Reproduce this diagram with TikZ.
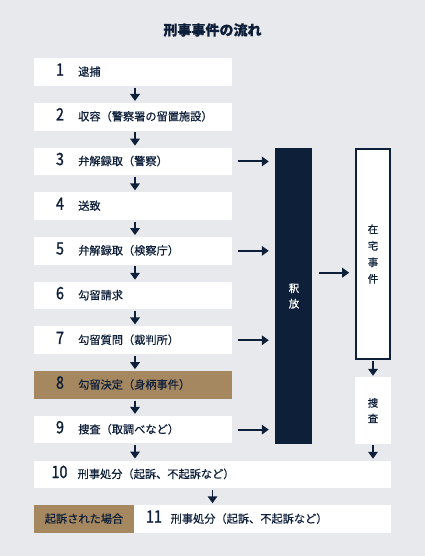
\documentclass[tikz,border=0pt]{standalone}
\usepackage{fontspec}
\setmainfont{Noto Sans CJK JP}[FakeBold=0.5]
\newfontfamily\lblfont{Noto Sans CJK JP}[FakeBold=0.5]
\newfontfamily\numfont{Noto Sans CJK JP}[FakeStretch=0.84,FakeBold=1.4]
\usetikzlibrary{arrows.meta,calc}
\definecolor{navy}{HTML}{0E1F3A}
\definecolor{gold}{HTML}{A58860}
\definecolor{bg}{HTML}{E8E9EC}
\begin{document}
\begin{tikzpicture}[x=1pt,y=-1pt,
  box/.style={fill=white, draw=none, minimum width=198, minimum height=27.6, inner sep=0, anchor=center},
  goldbox/.style={box, fill=gold},
  num/.style={font=\numfont\fontsize{17}{17}\selectfont, text=navy, inner sep=0, text height=0.733em, text depth=0pt, anchor=center},
  lbl/.style={font=\lblfont\fontsize{11.2}{12}\selectfont, text=navy, inner sep=0, text height=0.88em, text depth=0.12em, anchor=west},
  arr/.style={draw=navy, line width=1.9, -{Triangle[width=9.5,length=7]}},
  vtext/.style={align=center, inner sep=0, font=\lblfont\fontsize{10.5}{15.5}\selectfont},
]
\fill[bg] (0,0) rectangle (425,556);
\useasboundingbox (0,0) rectangle (425,556);

\node[text=navy, font=\bfseries\fontsize{14}{14}\selectfont, inner sep=0] (title) at (212.5,30) {刑事事件の流れ};

% rows
\node[box] (b1) at (133,72.05) {};
\node[num] (n1) at (60,72.05) {1};
\node[lbl] (t1) at (78,72.05) {逮捕};

\node[box] (b2) at (133,116.75) {};
\node[num] (n2) at (60,116.75) {2};
\node[lbl] (t2) at (78,116.75) {収容（警察署の留置施設）};

\node[box] (b3) at (133,161.45) {};
\node[num] (n3) at (60,161.45) {3};
\node[lbl] (t3) at (78,161.45) {弁解録取（警察）};

\node[box] (b4) at (133,206.15) {};
\node[num] (n4) at (60,206.15) {4};
\node[lbl] (t4) at (78,206.15) {送致};

\node[box] (b5) at (133,250.85) {};
\node[num] (n5) at (60,250.85) {5};
\node[lbl] (t5) at (78,250.85) {弁解録取（検察庁）};

\node[box] (b6) at (133,295.55) {};
\node[num] (n6) at (60,295.55) {6};
\node[lbl] (t6) at (78,295.55) {勾留請求};

\node[box] (b7) at (133,340.25) {};
\node[num] (n7) at (60,340.25) {7};
\node[lbl] (t7) at (78,340.25) {勾留質問（裁判所）};

\node[goldbox] (b8) at (133,384.95) {};
\node[num] (n8) at (60,384.95) {8};
\node[lbl] (t8) at (78,384.95) {勾留決定（身柄事件）};

\node[box] (b9) at (133,429.65) {};
\node[num] (n9) at (60,429.65) {9};
\node[lbl] (t9) at (78,429.65) {捜査（取調べなど）};

\node[box, minimum width=357] (b10) at (212.5,474.35) {};
\node[num] (n10) at (59.5,474.35) {10};
\node[lbl] (t10) at (77.5,474.35) {刑事処分（起訴、不起訴など）};

\node[goldbox, minimum width=100] (g11) at (84,519.05) {};
\node[lbl, anchor=center] (gt11) at (84,519.05) {起訴された場合};
\node[box, minimum width=257] (b11) at (262.5,519.05) {};
\node[num] (n11) at (154,519.05) {11};
\node[lbl] (t11) at (170.5,519.05) {刑事処分（起訴、不起訴など）};

% right column
\node[fill=navy, minimum width=37, minimum height=296, inner sep=0] (bar) at (293.5,295.7) {};
\node[vtext, text=white] (bart) at (294,296) {釈\\放};

\node[fill=white, draw=navy, line width=2, minimum width=34.6, minimum height=210, inner sep=0] (zt) at (373,253.7) {};
\node[vtext, text=navy, font=\lblfont\fontsize{10.5}{16.5}\selectfont] (ztt) at (373,254) {在\\宅\\事\\件};

\node[fill=white, minimum width=36.6, minimum height=66.7, inner sep=0] (sosa) at (373,410.35) {};
\node[vtext, text=navy] (sosat) at (373,410.5) {捜\\査};

% down arrows
\foreach \a/\b in {b1/b2,b2/b3,b3/b4,b4/b5,b5/b6,b6/b7,b7/b8,b8/b9}
  \draw[arr] ($(\a.south)+(2,1.6)$) -- ($(\b.north)+(2,-1.8)$);
\draw[arr] ($(b9.south)+(2,1.6)$) -- ($(b9.south |- b10.north)+(2,-1.8)$);
\draw[arr] ($(b10.south)+(0,1.6)$) -- ($(b10.south |- b11.north)+(0,-1.8)$);

% right arrows to bar
\foreach \a in {b3,b5,b7,b9}
  \draw[arr] ($(\a.east)+(6,0)$) -- ($(bar.west |- \a.east)+(-6,0)$);

\draw[arr] ($(bar.east)+(7,-23)$) -- ($(zt.west |- bar.east)+(-5.5,-23)$);
\draw[arr] ($(zt.south)+(0,0.8)$) -- ($(sosa.north)+(0,-1)$);
\draw[arr] ($(sosa.south)+(0,1.4)$) -- ($(sosa.south |- b10.north)+(0,-1.6)$);
\end{tikzpicture}
\end{document}
